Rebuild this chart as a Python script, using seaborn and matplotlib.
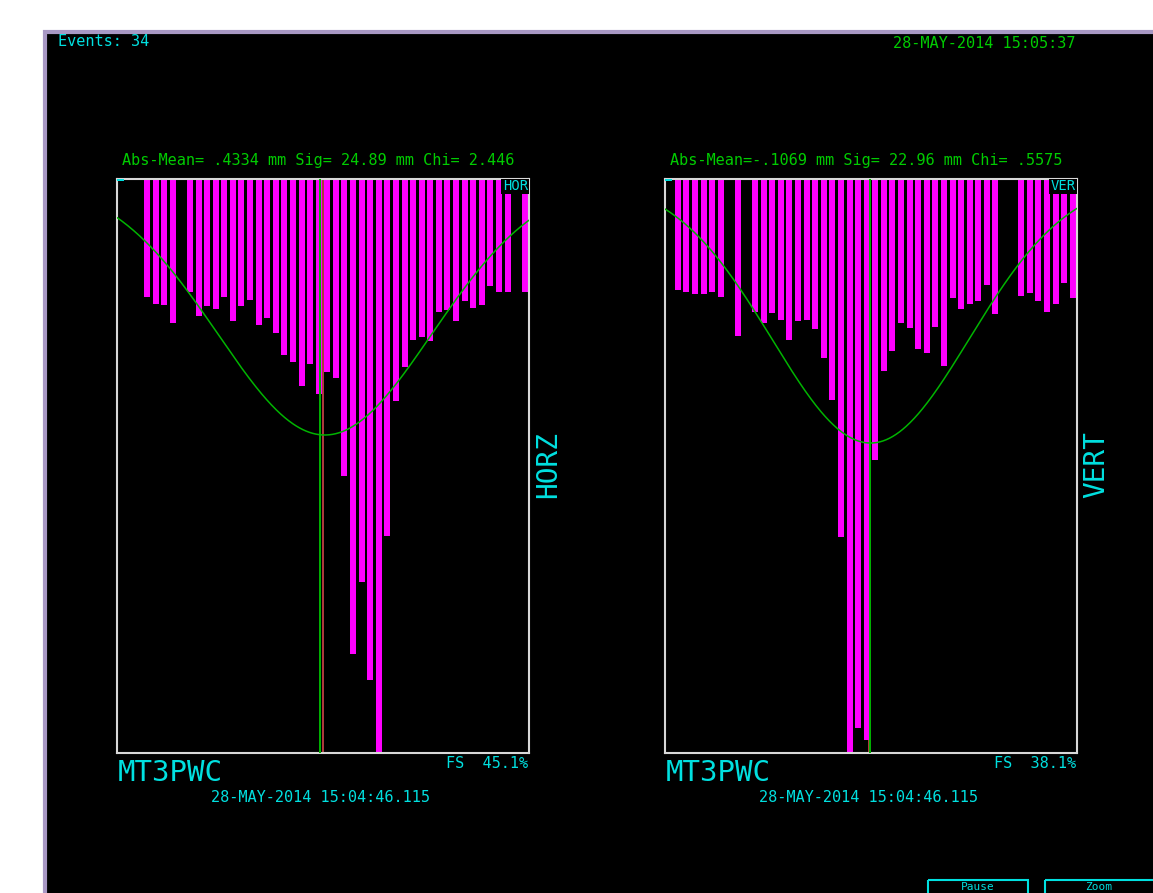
import numpy as np
import seaborn as sns
import matplotlib.pyplot as plt
from matplotlib.patches import Rectangle

sns.set_style("dark", {"axes.facecolor": "black"})
plt.rcParams['font.family'] = ['DejaVu Sans Mono', 'DejaVu Sans']

W, H = 1153, 893

# 48 wires, 2 mm pitch, bar depth in % of full scale
wire_mm = np.arange(-47, 48, 2)
hor_counts = [0, 0, 0, 20.6, 21.7, 22.0, 25.0, 0, 19.7, 23.8, 22.2, 22.7,
              20.6, 24.7, 22.2, 21.0, 25.5, 24.3, 26.9, 30.7, 31.8, 36.0, 32.2, 37.4,
              33.6, 34.6, 51.8, 82.8, 70.2, 87.2, 100.0, 62.2, 38.7, 32.7, 28.1, 27.6,
              28.3, 23.1, 22.9, 24.7, 21.2, 22.4, 21.9, 18.7, 19.6, 19.6, 0, 19.6]
ver_counts = [0, 19.4, 19.6, 20.1, 20.1, 19.6, 20.6, 0, 27.3, 0, 23.1, 25.0,
              23.3, 24.5, 28.0, 24.7, 24.5, 26.1, 31.2, 38.5, 62.4, 100.0, 95.7, 97.7,
              49.0, 33.4, 29.9, 25.0, 25.9, 29.6, 30.3, 25.7, 32.6, 20.8, 22.6, 21.7,
              21.3, 18.5, 23.6, 0, 0, 20.3, 19.9, 21.3, 23.1, 21.7, 18.2, 20.8]

# fit results shown on the screen
hor_fit = dict(mean=0.4334, sig=24.89, chi=2.446, amp=44.6)
ver_fit = dict(mean=-0.1069, sig=22.96, chi=0.5575, amp=46.0)
hor_lines = (-0.6, 0.1)   # green, red marker positions (mm)
ver_lines = (-0.2, -0.53)

MAG = '#ff00ff'
CYAN = '#00e0e0'
GREEN = '#00cc00'
CURVE = '#00b400'
RED = '#d04848'


def fx(x):
    return x / W


def fy(y):
    return 1 - y / H


fig = plt.figure(figsize=(W / 100, H / 100), dpi=100, facecolor='white')

bg = fig.add_axes([0, 0, 1, 1])
bg.set_xlim(0, W)
bg.set_ylim(H, 0)
bg.axis('off')
bg.add_patch(Rectangle((45, 32), W, H, facecolor='black', edgecolor='#a898c4', lw=3))
bg.add_patch(Rectangle((928, 880), 100, 30, facecolor='none', edgecolor=CYAN, lw=1.5))
bg.add_patch(Rectangle((1045, 880), 120, 30, facecolor='none', edgecolor=CYAN, lw=1.5))
bg.text(978, 887, 'Pause', color=CYAN, fontsize=8, ha='center', va='center')
bg.text(1099, 887, 'Zoom', color=CYAN, fontsize=8, ha='center', va='center')

bg.text(58, 41, 'Events: 34', color=CYAN, fontsize=11, ha='left', va='center')
bg.text(893, 44, '28-MAY-2014 15:05:37', color=GREEN, fontsize=11, ha='left', va='center')


def panel(x0, counts, fit, lines, tag, side, fs, stats):
    ax = fig.add_axes([fx(x0), fy(753), 412 / W, 574 / H])
    ax.set_facecolor('black')
    sns.barplot(x=wire_mm, y=counts, native_scale=True, color=MAG, width=0.7,
                saturation=1, errorbar=None, linewidth=0, ax=ax, zorder=2)
    xs = np.linspace(-48, 48, 500)
    ys = fit['amp'] * np.exp(-(xs - fit['mean']) ** 2 / (2 * fit['sig'] ** 2))
    sns.lineplot(x=xs, y=ys, color=CURVE, lw=1.1, ax=ax, zorder=4)
    ax.axvline(lines[1], color=RED, lw=1.2, zorder=1)
    ax.axvline(lines[0], color=CURVE, lw=1.4, zorder=3)
    ax.set_xlim(-48, 48)
    ax.set_ylim(100, 0)
    ax.set_xticks([])
    ax.set_yticks([])
    ax.set_xlabel('')
    ax.set_ylabel('')
    ax.grid(False)
    for s in ax.spines.values():
        s.set_visible(True)
        s.set_color('#d8d8d8')
        s.set_linewidth(1.5)
    ax.add_patch(Rectangle((0.933, 0.973), 0.067, 0.027, transform=ax.transAxes,
                           facecolor='black', edgecolor='none', zorder=5))
    ax.add_patch(Rectangle((0.0, 0.997), 0.017, 0.003, transform=ax.transAxes,
                           facecolor=CYAN, edgecolor='none', zorder=5))
    ax.text(0.997, 0.987, tag, transform=ax.transAxes, color=CYAN, fontsize=10,
            ha='right', va='center', zorder=6)

    bg.text(x0 + 5, 160, stats, color=GREEN, fontsize=11, ha='left', va='center')
    bg.text(x0 + 431, 465, side, color=CYAN, fontsize=20, rotation=90,
            ha='center', va='center')
    bg.text(x0 + 1, 773, 'MT3PWC', color=CYAN, fontsize=21, ha='left', va='center')
    bg.text(x0 + 411, 764, fs, color=CYAN, fontsize=11, ha='right', va='center')
    bg.text(x0 + 94, 797, '28-MAY-2014 15:04:46.115', color=CYAN, fontsize=11,
            ha='left', va='center')


panel(117, hor_counts, hor_fit, hor_lines, 'HOR', 'HORZ', 'FS  45.1%',
      'Abs-Mean= .4334 mm Sig= 24.89 mm Chi= 2.446')
panel(665, ver_counts, ver_fit, ver_lines, 'VER', 'VERT', 'FS  38.1%',
      'Abs-Mean=-.1069 mm Sig= 22.96 mm Chi= .5575')

fig.savefig('out.png', dpi=100, facecolor='white')
